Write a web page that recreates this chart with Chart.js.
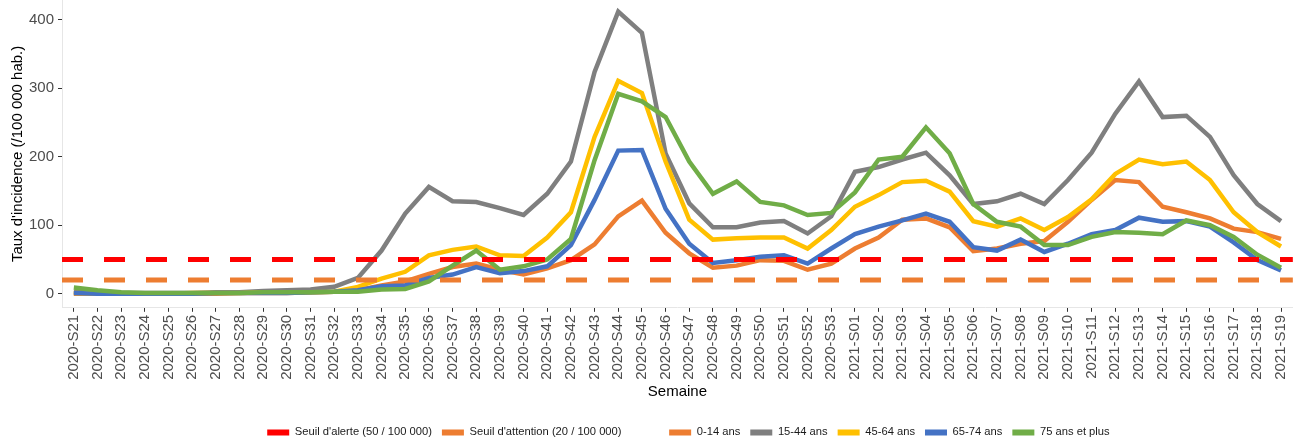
<!DOCTYPE html>
<html>
<head>
<meta charset="utf-8">
<script src="https://cdn.jsdelivr.net/npm/chart.js@4.4.1/dist/chart.umd.min.js"></script>
<style>
  body { margin: 0; background: #fff; }
  #wrap { width: 1302px; height: 441px; position: relative; }
</style>
</head>
<body>
<div id="wrap"><canvas id="chart"></canvas></div>
<script>
// semaines
const semaines = [
  '2020-S21','2020-S22','2020-S23','2020-S24','2020-S25','2020-S26','2020-S27','2020-S28','2020-S29','2020-S30',
  '2020-S31','2020-S32','2020-S33','2020-S34','2020-S35','2020-S36','2020-S37','2020-S38','2020-S39','2020-S40',
  '2020-S41','2020-S42','2020-S43','2020-S44','2020-S45','2020-S46','2020-S47','2020-S48','2020-S49','2020-S50',
  '2020-S51','2020-S52','2020-S53','2021-S01','2021-S02','2021-S03','2021-S04','2021-S05','2021-S06','2021-S07',
  '2021-S08','2021-S09','2021-S10','2021-S11','2021-S12','2021-S13','2021-S14','2021-S15','2021-S16','2021-S17',
  '2021-S18','2021-S19'
];

// taux d'incidence par classe d'age
const age0_14 = [0,0,0,0,0,0,0,1,1,1, 2,3,5,12,18,29,39,44,35,28, 37,49,72,113,136,89,59,38,41,49,
  48,35,44,66,82,108,110,97,62,66, 73,77,105,137,166,163,127,119,110,95, 90,80];
const age15_44 = [3,2,1,1,1,1,2,2,4,5, 6,10,23,63,117,156,135,134,125,115, 146,193,324,412,381,205,132,97,97,104,
  106,88,113,178,185,196,206,173,131,135, 146,131,166,206,263,310,258,260,229,173, 131,106];
const age45_64 = [1,0,0,0,0,1,1,1,2,2, 2,3,10,22,32,56,64,69,56,55, 82,119,229,311,293,193,108,79,81,82,
  82,66,93,127,144,163,165,149,106,98, 110,93,112,138,175,196,189,193,166,119, 90,69];
const age65_74 = [1,0,0,0,0,0,1,1,1,1, 2,3,5,11,12,23,28,39,30,33, 40,71,137,209,210,124,73,45,49,54,
  56,44,66,87,98,107,117,105,68,63, 79,61,73,87,93,111,105,106,98,75, 49,34];
const age75plus = [9,5,2,1,1,1,1,1,2,2, 2,3,3,6,7,18,41,63,35,40, 50,80,195,292,281,258,193,146,164,134,
  129,115,118,148,196,200,243,205,131,105, 98,71,71,83,90,89,87,107,100,83, 57,38];

// seuils
const seuilAlerte = 50;
const seuilAttention = 20;
const yTicks = [0, 100, 200, 300, 400];

const police = "'Liberation Sans', Arial, sans-serif";

// lignes de seuil sur toute la largeur du panneau
const seuilsPlugin = {
  id: 'seuils',
  afterLayout(chart) {
    // decaler un peu la legende vers la droite comme dans l'original
    chart.legend.left += 11;
    chart.legend.right += 11;
  },
  afterDatasetsDraw(chart) {
    const ctx = chart.ctx, area = chart.chartArea, y = chart.scales.y;
    [[seuilAttention, '#ED7D31'], [seuilAlerte, '#FF0000']].forEach(([v, c]) => {
      const py = y.getPixelForValue(v);
      ctx.save();
      ctx.strokeStyle = c;
      ctx.lineWidth = 5;
      ctx.setLineDash([21, 21]);
      ctx.beginPath();
      ctx.moveTo(area.left, py);
      ctx.lineTo(area.right, py);
      ctx.stroke();
      ctx.restore();
    });
  }
};

function serie(label, data, color, order) {
  return {
    label: label,
    data: data,
    borderColor: color,
    backgroundColor: color,
    borderWidth: 4.5,
    pointRadius: 0,
    tension: 0,
    fill: false,
    order: order
  };
}

const legendItems = [
  ["Seuil d'alerte (50 / 100 000)", '#FF0000'],
  ["Seuil d'attention (20 / 100 000)", '#ED7D31'],
  ['', 'rgba(0,0,0,0)'],
  ['0-14 ans', '#ED7D31'],
  ['15-44 ans', '#7F7F7F'],
  ['45-64 ans', '#FFC000'],
  ['65-74 ans', '#4472C4'],
  ['75 ans et plus', '#70AD47']
];

new Chart(document.getElementById('chart'), {
  type: 'line',
  data: {
    labels: semaines,
    datasets: [
      serie('0-14 ans', age0_14, '#ED7D31', 4),
      serie('15-44 ans', age15_44, '#7F7F7F', 3),
      serie('45-64 ans', age45_64, '#FFC000', 2),
      serie('65-74 ans', age65_74, '#4472C4', 1),
      serie('75 ans et plus', age75plus, '#70AD47', 0)
    ]
  },
  plugins: [seuilsPlugin],
  options: {
    responsive: true,
    maintainAspectRatio: false,
    animation: false,
    devicePixelRatio: 1,
    layout: { padding: { top: 0, right: 0, bottom: -7, left: 0 } },
    plugins: {
      tooltip: { enabled: false },
      legend: {
        position: 'bottom',
        fullSize: false,
        labels: {
          boxWidth: 22,
          boxHeight: 6,
          padding: 10,
          color: '#1a1a1a',
          font: { family: police, size: 11.2 },
          generateLabels: () => legendItems.map(([t, c]) => ({
            text: t, fillStyle: c, strokeStyle: c, lineWidth: 0, hidden: false, fontColor: '#1a1a1a'
          }))
        }
      }
    },
    scales: {
      x: {
        offset: true,
        grid: { display: true, drawOnChartArea: false, tickLength: 4, tickColor: '#333333' },
        border: { display: true, color: '#e6e6e6', width: 1 },
        ticks: {
          autoSkip: false, maxRotation: 90, minRotation: 90, padding: 3,
          color: '#4d4d4d', font: { family: police, size: 15 }
        },
        title: {
          display: true, text: 'Semaine', color: '#000000',
          font: { family: police, size: 15 }, padding: { top: 0, bottom: 16 }
        },
        afterFit(scale) { scale.height = 109; }
      },
      y: {
        min: -20.6,
        max: 429,
        grid: { display: true, drawOnChartArea: false, tickLength: 4, tickColor: '#333333' },
        border: { display: true, color: '#e6e6e6', width: 1 },
        afterBuildTicks(scale) { scale.ticks = yTicks.map(v => ({ value: v })); },
        ticks: { padding: 4, color: '#4d4d4d', font: { family: police, size: 15 } },
        title: {
          display: true, text: "Taux d'incidence (/100 000 hab.)", color: '#000000',
          font: { family: police, size: 15 }, padding: { top: 9, bottom: 0 }
        },
        afterFit(scale) {
          scale.width = 62;
          scale.paddingTop = 0;
          scale.paddingBottom = 0;
        }
      }
    }
  }
});
</script>
</body>
</html>
